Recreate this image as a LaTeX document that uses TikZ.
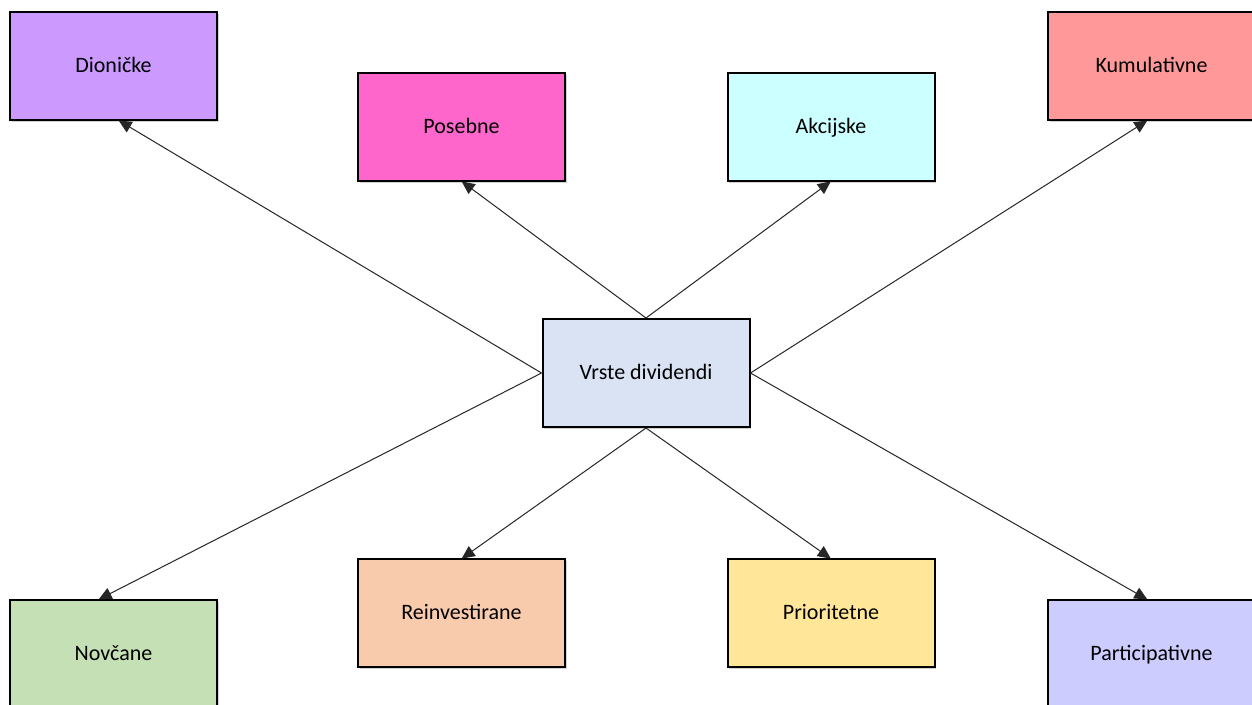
\documentclass[tikz,border=0pt]{standalone}
\usepackage{fontspec}
\setmainfont{Carlito}
\usetikzlibrary{arrows.meta,shadows}
\definecolor{cDio}{HTML}{CC99FF}
\definecolor{cPos}{HTML}{FF66CC}
\definecolor{cAkc}{HTML}{CCFFFF}
\definecolor{cKum}{HTML}{FF9999}
\definecolor{cVrs}{HTML}{DAE3F3}
\definecolor{cNov}{HTML}{C5E0B4}
\definecolor{cRei}{HTML}{F8CBAD}
\definecolor{cPri}{HTML}{FFE699}
\definecolor{cPar}{HTML}{CCCCFF}
\tikzset{
  box/.style={draw=black, line width=2pt, minimum width=207pt, minimum height=108pt,
    inner sep=0pt, font=\fontsize{22}{26}\selectfont, text height=1.3em, text depth=0.1em,
    drop shadow={shadow xshift=1.5pt, shadow yshift=-1.5pt, opacity=0.35, fill=gray}},
  conn/.style={draw=black!85, line width=1pt, -{Triangle[length=13pt,width=12pt]}, shorten >=-1pt}
}
\begin{document}
\begin{tikzpicture}[x=1pt,y=-1pt]
\useasboundingbox (0,0) rectangle (1252,704);
\fill[white] (0,0) rectangle (1252,704);
\node[box, fill=cDio] (dio) at (113.5,66) {Dioničke};
\node[box, fill=cPos] (pos) at (461.5,127) {Posebne};
\node[box, fill=cAkc] (akc) at (831,127) {Akcijske};
\node[box, fill=cKum] (kum) at (1151.5,66) {Kumulativne};
\node[box, fill=cVrs] (vrs) at (646,373) {Vrste dividendi};
\node[box, fill=cNov] (nov) at (113.5,654) {Novčane};
\node[box, fill=cRei] (rei) at (461.5,613) {Reinvestirane};
\node[box, fill=cPri] (pri) at (831,613) {Prioritetne};
\node[box, fill=cPar] (par) at (1151.5,654) {Participativne};
\draw[conn] (vrs.west) -- ([xshift=6pt]dio.south);
\draw[conn] (vrs.north) -- ([xshift=1pt]pos.south);
\draw[conn] (vrs.north) -- ([xshift=-1pt]akc.south);
\draw[conn] (vrs.east) -- ([xshift=-5pt]kum.south);
\draw[conn] (vrs.west) -- ([xshift=-14pt]nov.north);
\draw[conn] (vrs.south) -- ([xshift=1pt]rei.north);
\draw[conn] (vrs.south) -- ([xshift=-1pt]pri.north);
\draw[conn] (vrs.east) -- ([xshift=-5pt]par.north);
\end{tikzpicture}
\end{document}
